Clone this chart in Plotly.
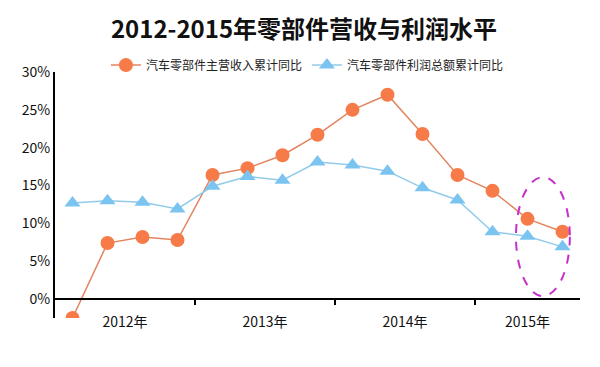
import plotly.graph_objects as go

quarters = ["2012Q1","2012Q2","2012Q3","2012Q4","2013Q1","2013Q2","2013Q3","2013Q4",
            "2014Q1","2014Q2","2014Q3","2014Q4","2015Q1","2015Q2","2015Q3"]
revenue_yoy = [-2.5, 7.4, 8.2, 7.8, 16.4, 17.3, 19.0, 21.7, 25.0, 27.0, 21.8, 16.4, 14.3, 10.6, 8.9]
profit_yoy = [12.7, 13.0, 12.8, 11.9, 14.9, 16.2, 15.7, 18.1, 17.7, 16.9, 14.7, 13.1, 8.9, 8.3, 6.9]
year_labels = ["2012年", "2013年", "2014年", "2015年"]
year_label_pos = [1.5, 5.5, 9.5, 13]
year_sep_pos = [3.5, 7.5, 11.5]
y_ticks = [0, 5, 10, 15, 20, 25, 30]
y_tick_text = ["0%", "5%", "10%", "15%", "20%", "25%", "30%"]

x = list(range(len(quarters)))
y_min, y_max = -2.5, 30

FONT = "Noto Sans CJK SC"

fig = go.Figure()
fig.add_trace(go.Scatter(
    x=x, y=revenue_yoy, mode="lines+markers", name="汽车零部件主营收入累计同比",
    line=dict(color="#E2845F", width=1.5),
    marker=dict(symbol="circle", size=14, color="#F77B48"),
    customdata=quarters,
))
fig.add_trace(go.Scatter(
    x=x, y=profit_yoy, mode="lines+markers", name="汽车零部件利润总额累计同比",
    line=dict(color="#92CBEA", width=1.5),
    marker=dict(symbol="triangle-up", size=14, color="#7CC4F0"),
    customdata=quarters,
))

fig.add_shape(type="circle", xref="x", yref="y", x0=12.67, x1=14.21, y0=0.4, y1=16.1,
              line=dict(color="#C62FCB", width=2, dash="dash"))

fig.update_layout(
    width=592, height=359,
    margin=dict(l=47, r=20, t=64, b=49, autoexpand=False),
    paper_bgcolor="white", plot_bgcolor="white",
    font=dict(family=FONT, color="#111111"),
    title=dict(text="<b>2012-2015年零部件营收与利润水平</b>", x=0.5, xanchor="center",
               y=0.94, yanchor="middle", font=dict(size=24, family=FONT, color="#111111")),
    showlegend=True,
    legend=dict(orientation="h", x=0.097, xanchor="left", y=1.028, yanchor="middle",
                font=dict(size=12, family=FONT, color="#222222"),
                bgcolor="rgba(0,0,0,0)", itemwidth=30, tracegroupgap=0),
    xaxis=dict(
        range=[-0.5, 14.5], anchor="free", position=(0 - y_min) / (y_max - y_min),
        showline=True, linecolor="black", linewidth=2, showgrid=False, zeroline=False,
        tickmode="array", tickvals=year_label_pos, ticktext=year_labels, ticks="",
        tickfont=dict(size=14, family=FONT, color="#111111"),
        ticklabelstandoff=10, automargin=False,
        minor=dict(tickmode="array", tickvals=year_sep_pos, ticks="outside",
                   ticklen=5, tickwidth=2, tickcolor="black"),
    ),
    yaxis=dict(
        range=[y_min, y_max], showline=True, linecolor="black", linewidth=2,
        showgrid=False, zeroline=False, ticks="", automargin=False,
        tickmode="array", tickvals=y_ticks, ticktext=y_tick_text,
        tickfont=dict(size=14, family=FONT, color="#111111"),
    ),
)

fig.write_html("out.html")
